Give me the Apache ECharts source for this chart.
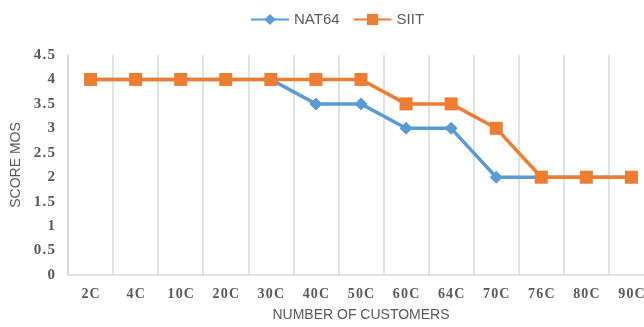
<!DOCTYPE html>
<html>
<head>
<meta charset="utf-8">
<script src="https://cdn.jsdelivr.net/npm/echarts@6/dist/echarts.min.js"></script>
<style>
  html, body { margin: 0; padding: 0; background: #fff; }
  #chart { width: 644px; height: 327px; }
</style>
</head>
<body>
<div id="chart"></div>
<script>
// Customer counts along the x axis
const categories = ['2C', '4C', '10C', '20C', '30C', '40C', '50C', '60C', '64C', '70C', '76C', '80C', '90C'];
// MOS scores per translation mechanism
const nat64 = [4, 4, 4, 4, 4, 3.5, 3.5, 3, 3, 2, 2, 2, 2];
const siit = [4, 4, 4, 4, 4, 4, 4, 3.5, 3.5, 3, 2, 2, 2];

const grey = '#595959';
const spaced = s => String(s).split('').join('\u200A');

const chart = echarts.init(document.getElementById('chart'));
chart.setOption({
  animation: false,
  legend: {
    top: 7,
    left: 245,
    itemWidth: 38,
    itemHeight: 14,
    itemGap: 13,
    textStyle: { color: grey, fontSize: 15, fontFamily: 'Liberation Sans' },
    data: ['NAT64', 'SIIT']
  },
  grid: { left: 68, right: -10, top: 55, bottom: 52, outerBoundsMode: 'none', containLabel: false },
  xAxis: {
    type: 'category',
    data: categories,
    boundaryGap: true,
    name: 'NUMBER OF CUSTOMERS',
    nameLocation: 'middle',
    nameGap: 33,
    nameTextStyle: { color: grey, fontSize: 14, fontFamily: 'Liberation Sans' },
    axisLine: { lineStyle: { color: '#d9d9d9', width: 1.5 } },
    axisTick: { show: false },
    axisLabel: {
      color: grey, fontSize: 14, fontWeight: 'bold', fontFamily: 'Liberation Serif',
      margin: 12, interval: 0, formatter: v => spaced(v)
    },
    splitLine: { show: true, interval: 0, lineStyle: { color: '#d9d9d9', width: 1.5 } }
  },
  yAxis: {
    type: 'value',
    min: 0,
    max: 4.5,
    interval: 0.5,
    name: 'SCORE MOS',
    nameLocation: 'middle',
    nameGap: 43,
    nameTextStyle: { color: grey, fontSize: 14, fontFamily: 'Liberation Sans' },
    axisLine: { show: true, lineStyle: { color: '#d9d9d9', width: 1.5 } },
    axisTick: { show: false },
    axisLabel: {
      color: grey, fontSize: 15, fontWeight: 'bold', fontFamily: 'Liberation Serif',
      margin: 13, formatter: v => spaced(v)
    },
    splitLine: { show: false }
  },
  series: [
    {
      name: 'NAT64',
      type: 'line',
      data: nat64,
      symbol: 'diamond',
      symbolSize: 13,
      lineStyle: { color: '#5B9BD5', width: 3.5 },
      itemStyle: { color: '#5B9BD5' },
      z: 2
    },
    {
      name: 'SIIT',
      type: 'line',
      data: siit,
      symbol: 'rect',
      symbolSize: 13,
      lineStyle: { color: '#ED7D31', width: 3.5 },
      itemStyle: { color: '#ED7D31' },
      z: 3
    }
  ]
});
</script>
</body>
</html>
